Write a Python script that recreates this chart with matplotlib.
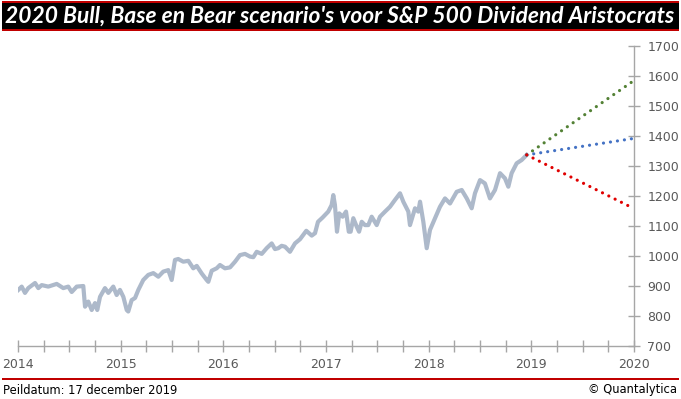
import matplotlib
matplotlib.use("Agg")
import matplotlib.pyplot as plt
from matplotlib.patches import Rectangle

# ---- data ----
jaren = [2014.003, 2014.036, 2014.068, 2014.100, 2014.166, 2014.198, 2014.231, 2014.295,
         2014.377, 2014.441, 2014.490, 2014.523, 2014.572, 2014.636, 2014.653, 2014.685,
         2014.718, 2014.750, 2014.772, 2014.799, 2014.847, 2014.880, 2014.928, 2014.961,
         2014.993, 2015.026, 2015.059, 2015.074, 2015.107, 2015.140, 2015.172, 2015.220,
         2015.269, 2015.318, 2015.367, 2015.415, 2015.464, 2015.497, 2015.529, 2015.561,
         2015.610, 2015.659, 2015.707, 2015.741, 2015.789, 2015.838, 2015.854, 2015.887,
         2015.935, 2015.967, 2016.016, 2016.065, 2016.114, 2016.162, 2016.211, 2016.260,
         2016.292, 2016.325, 2016.374, 2016.422, 2016.471, 2016.503, 2016.535, 2016.568,
         2016.601, 2016.649, 2016.698, 2016.747, 2016.808, 2016.861, 2016.893, 2016.922,
         2016.966, 2017.022, 2017.055, 2017.071, 2017.087, 2017.107, 2017.129, 2017.162,
         2017.195, 2017.222, 2017.240, 2017.266, 2017.299, 2017.322, 2017.348, 2017.380,
         2017.412, 2017.445, 2017.494, 2017.526, 2017.575, 2017.623, 2017.672, 2017.721,
         2017.753, 2017.802, 2017.818, 2017.867, 2017.899, 2017.916, 2017.948, 2017.981,
         2018.013, 2018.062, 2018.110, 2018.159, 2018.208, 2018.273, 2018.322, 2018.371,
         2018.419, 2018.451, 2018.500, 2018.548, 2018.597, 2018.646, 2018.695, 2018.743,
         2018.776, 2018.808, 2018.857, 2018.906, 2018.938, 2018.955]
koers = [887, 898, 877, 893, 910, 893, 903, 898,
         907, 893, 898, 880, 898, 900, 831, 848,
         820, 843, 820, 864, 893, 877, 898, 870,
         887, 864, 820, 815, 853, 860, 887, 920,
         937, 943, 931, 948, 953, 920, 987, 990,
         981, 984, 959, 967, 942, 920, 914, 951,
         959, 970, 959, 962, 981, 1003, 1007, 998,
         996, 1014, 1007, 1026, 1042, 1023, 1026, 1034,
         1031, 1014, 1042, 1056, 1084, 1068, 1076, 1114,
         1128, 1148, 1170, 1203, 1170, 1081, 1142, 1131,
         1148, 1081, 1081, 1126, 1098, 1081, 1114, 1103,
         1103, 1131, 1103, 1131, 1148, 1164, 1187, 1209,
         1181, 1148, 1103, 1159, 1148, 1181, 1114, 1026,
         1087, 1126, 1164, 1192, 1175, 1214, 1220, 1192,
         1159, 1209, 1253, 1242, 1192, 1220, 1276, 1259,
         1231, 1276, 1309, 1320, 1331, 1337]

scenario_x = [2018.955, 2020.0]
bull = [1337, 1585]
base = [1337, 1392]
bear = [1337, 1158]

jaar_ticks = [2014, 2015, 2016, 2017, 2018, 2019, 2020]
y_ticks = [700, 800, 900, 1000, 1100, 1200, 1300, 1400, 1500, 1600, 1700]

titel = "2020 Bull, Base en Bear scenario's voor S&P 500 Dividend Aristocrats"
voet_links = "Peildatum: 17 december 2019"
voet_rechts = "© Quantalytica"

# ---- figure ----
W, H = 681, 399
fig = plt.figure(figsize=(W / 100, H / 100), dpi=100)
fig.patch.set_facecolor("white")

def fx(px):
    return px / W

def fy(py):
    return 1 - py / H

# title bar
fig.patches.append(Rectangle((fx(2), fy(31)), fx(677), 30 / H, transform=fig.transFigure,
                             facecolor="#C00000", edgecolor="none", zorder=0))
fig.patches.append(Rectangle((fx(2), fy(29)), fx(677), 26 / H, transform=fig.transFigure,
                             facecolor="black", edgecolor="none", zorder=1))
fig.text(fx(340), fy(16.5), titel, color="white", fontsize=16.4, fontweight="bold",
         fontstyle="italic", family="Lato", ha="center", va="center", zorder=2)

# footer
fig.patches.append(Rectangle((fx(2), fy(380)), fx(677), 2 / H, transform=fig.transFigure,
                             facecolor="#C00000", edgecolor="none"))
fig.text(fx(3), fy(390), voet_links, fontsize=8.3, family="DejaVu Sans", color="black",
         ha="left", va="center")
fig.text(fx(677), fy(390), voet_rechts, fontsize=8.3, family="DejaVu Sans", color="black",
         ha="right", va="center")

ax = fig.add_axes([fx(18), fy(346), fx(634 - 18), (346 - 46) / H])
ax.plot(jaren, koers, color="#ADB9CA", lw=3.0, solid_joinstyle="round", zorder=2)

dot = dict(lw=2.3, linestyle=(0, (0.01, 2.2)), dash_capstyle="round", zorder=3)
ax.plot(scenario_x, bull, color="#538135", **dot)
ax.plot(scenario_x, base, color="#4472C4", **dot)
ax.plot(scenario_x, bear, color="#E00000", **dot)

ax.set_xlim(2014, 2020)
ax.set_ylim(700, 1700)
ax.set_xticks(jaar_ticks)
ax.set_xticklabels([str(j) for j in jaar_ticks])
ax.set_xticks([j + q / 4 for j in jaar_ticks[:-1] for q in (1, 2, 3)], minor=True)
ax.set_yticks(y_ticks)

for s in ("top", "left"):
    ax.spines[s].set_visible(False)
for s in ("bottom", "right"):
    ax.spines[s].set_color("#A6A6A6")
    ax.spines[s].set_linewidth(1.0)

ax.yaxis.tick_right()
ax.tick_params(axis="both", which="both", direction="inout", color="#A6A6A6",
               labelcolor="#595959", labelsize=9, width=1.0)
ax.tick_params(axis="x", which="major", length=8, pad=5)
ax.tick_params(axis="x", which="minor", length=8)
ax.tick_params(axis="y", which="major", length=9, pad=5)
ax.set_facecolor("white")

fig.savefig("out.png", dpi=100)
